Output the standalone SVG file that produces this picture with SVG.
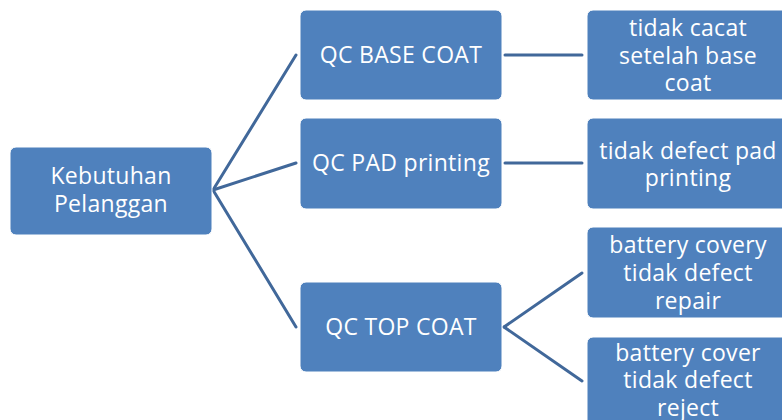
<svg xmlns="http://www.w3.org/2000/svg" width="782" height="420" viewBox="0 0 782 420">
  <style>
    .box { fill: #4f81bd; stroke: #ffffff; stroke-width: 1; }
    .lbl { fill: #ffffff; font-family: "Open Sans", "Liberation Sans", sans-serif; font-size: 23px; letter-spacing: 0.3px; text-anchor: middle; dominant-baseline: central; }
    .link { stroke: #41689a; stroke-width: 3; fill: none; stroke-linecap: round; }
  </style>
  <rect width="782" height="420" fill="#ffffff"/>

  <g id="connectors">
    <line class="link" x1="213" y1="190" x2="296" y2="55"/>
    <line class="link" x1="213" y1="190" x2="296" y2="163"/>
    <line class="link" x1="213" y1="190" x2="296" y2="327"/>
    <line class="link" x1="505" y1="55" x2="582" y2="55"/>
    <line class="link" x1="505" y1="163" x2="582" y2="163"/>
    <line class="link" x1="504" y1="327" x2="582" y2="273"/>
    <line class="link" x1="504" y1="327" x2="582" y2="381"/>
  </g>

  <g id="kebutuhan-pelanggan">
    <rect class="box" x="10" y="147" width="202" height="88" rx="6"/>
    <text class="lbl" x="111" y="175">Kebutuhan</text>
    <text class="lbl" x="111" y="203">Pelanggan</text>
  </g>

  <g id="qc-base-coat">
    <rect class="box" x="300" y="10" width="202" height="90" rx="6"/>
    <text class="lbl" x="401" y="54">QC BASE COAT</text>
  </g>

  <g id="qc-pad-printing">
    <rect class="box" x="300" y="118" width="202" height="91" rx="6"/>
    <text class="lbl" x="401" y="162">QC PAD printing</text>
  </g>

  <g id="qc-top-coat">
    <rect class="box" x="300" y="282" width="202" height="90" rx="6"/>
    <text class="lbl" x="401" y="326">QC TOP COAT</text>
  </g>

  <g id="tidak-cacat">
    <rect class="box" x="587" y="10" width="202" height="90" rx="6"/>
    <text class="lbl" x="688" y="27">tidak cacat</text>
    <text class="lbl" x="688" y="55">setelah base</text>
    <text class="lbl" x="688" y="82">coat</text>
  </g>

  <g id="tidak-defect-pad">
    <rect class="box" x="587" y="118" width="202" height="91" rx="6"/>
    <text class="lbl" x="688" y="150">tidak defect pad</text>
    <text class="lbl" x="688" y="177">printing</text>
  </g>

  <g id="battery-repair">
    <rect class="box" x="587" y="227" width="202" height="91" rx="6"/>
    <text class="lbl" x="688" y="244">battery covery</text>
    <text class="lbl" x="688" y="272">tidak defect</text>
    <text class="lbl" x="688" y="300">repair</text>
  </g>

  <g id="battery-reject">
    <rect class="box" x="587" y="337" width="202" height="91" rx="6"/>
    <text class="lbl" x="688" y="352">battery cover</text>
    <text class="lbl" x="688" y="379">tidak defect</text>
    <text class="lbl" x="688" y="407">reject</text>
  </g>
</svg>
